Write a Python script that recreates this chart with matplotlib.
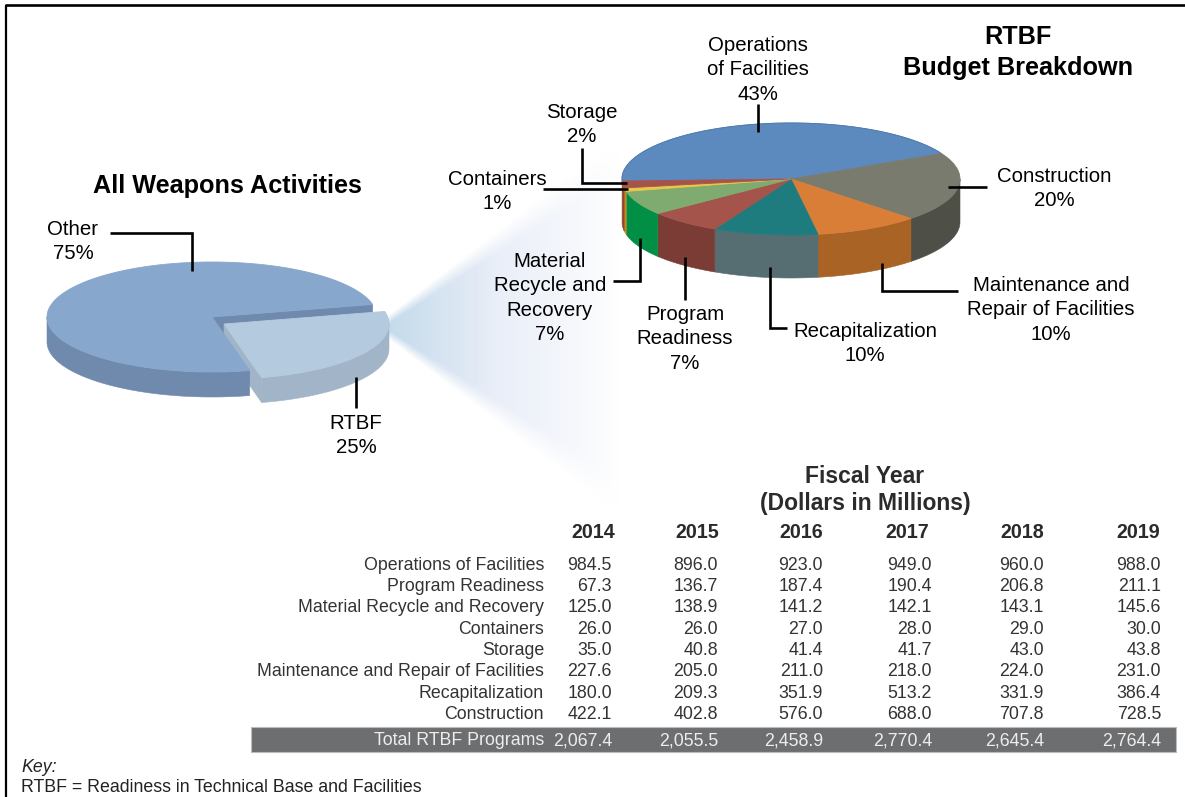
import numpy as np
import matplotlib
matplotlib.use("Agg")
import matplotlib.pyplot as plt
from matplotlib.patches import Polygon, Rectangle

plt.rcParams['font.family'] = ['Liberation Sans', 'DejaVu Sans']

# ---- data ----
rtbf_slices = ["Operations of Facilities", "Construction", "Maintenance and Repair of Facilities",
               "Recapitalization", "Program Readiness", "Material Recycle and Recovery",
               "Containers", "Storage"]
rtbf_percent = [43, 20, 10, 10, 7, 7, 1, 2]
rtbf_top = ["#5C8ABE", "#7A7B6F", "#D97E37", "#1E7B7E", "#A5544C", "#7FAB70", "#E8C84A", "#A5544C"]
rtbf_side = ["#4A70A0", "#4E4F47", "#A86325", "#566E72", "#7A3C35", "#008F45", "#C58A1A", "#8B4A30"]

weapons_slices = ["Other", "RTBF"]
weapons_percent = [75, 25]

years = ["2014", "2015", "2016", "2017", "2018", "2019"]
programs = ["Operations of Facilities", "Program Readiness", "Material Recycle and Recovery",
            "Containers", "Storage", "Maintenance and Repair of Facilities",
            "Recapitalization", "Construction"]
ops = ["984.5", "896.0", "923.0", "949.0", "960.0", "988.0"]
readiness = ["67.3", "136.7", "187.4", "190.4", "206.8", "211.1"]
recycle = ["125.0", "138.9", "141.2", "142.1", "143.1", "145.6"]
containers = ["26.0", "26.0", "27.0", "28.0", "29.0", "30.0"]
storage = ["35.0", "40.8", "41.4", "41.7", "43.0", "43.8"]
maintenance = ["227.6", "205.0", "211.0", "218.0", "224.0", "231.0"]
recap = ["180.0", "209.3", "351.9", "513.2", "331.9", "386.4"]
construction = ["422.1", "402.8", "576.0", "688.0", "707.8", "728.5"]
totals = ["2,067.4", "2,055.5", "2,458.9", "2,770.4", "2,645.4", "2,764.4"]
rows = [ops, readiness, recycle, containers, storage, maintenance, recap, construction]

# ---- canvas in pixel coordinates ----
W, H = 1185, 797
fig = plt.figure(figsize=(W / 100, H / 100), dpi=100, facecolor="white")
ax = fig.add_axes([0, 0, 1, 1])
ax.axis("off")


def ell(cx, cy, rx, ry, a, dy=0):
    t = np.radians(a)
    return np.column_stack([cx + rx * np.cos(t), cy - ry * np.sin(t) + dy])


def arc(a0, a1, n=None):
    n = n or max(2, int(abs(a1 - a0)) + 2)
    return np.linspace(a0, a1, n)


def top(cx, cy, rx, ry, a0, a1, color, z, ec=None):
    pts = np.vstack([[cx, cy], ell(cx, cy, rx, ry, arc(a0, a1))])
    ax.add_patch(Polygon(pts, closed=True, fc=color, ec=ec or color, lw=0.6, zorder=z))


def side(cx, cy, rx, ry, d, a0, a1, color, z):
    # a0 > a1, clockwise. Only the front half of the rim is seen.
    s = max(a1, -180)
    e = min(a0, 0)
    if e <= s:
        return
    a = arc(e, s)
    pts = np.vstack([ell(cx, cy, rx, ry, a), ell(cx, cy, rx, ry, a[::-1], d)])
    ax.add_patch(Polygon(pts, closed=True, fc=color, ec=color, lw=0.4, zorder=z))


# ---- fan behind the two pies ----
yy, xx = np.mgrid[150:520, 380:640]
yt = 313 - 0.77 * (xx - 390)
yb = 340 + 0.76 * (xx - 390)
soft = 8 + 0.12 * (xx - 380)
a = np.clip((yy - yt) / soft, 0, 1) * np.clip((yb - yy) / soft, 0, 1)
f = np.clip((xx - 385) / 235.0, 0, 1)
a = a * (1 - f ** 1.6)
rgba = np.zeros(xx.shape + (4,))
c0, c1 = np.array([196, 219, 236]) / 255, np.array([224, 231, 245]) / 255
mix = np.clip((xx - 385) / 110.0, 0, 1)
for i in range(3):
    rgba[..., i] = c0[i] * (1 - mix) + c1[i] * mix
rgba[..., 3] = a
ax.imshow(rgba, extent=(380, 640, 520, 150), aspect="auto", zorder=0, interpolation="bilinear")

# ---- RTBF pie ----
RC = (791, 179, 169, 56)
RD = 43
angle = 182.0
for p, t, s in zip(rtbf_percent, rtbf_top, rtbf_side):
    a1 = angle - p * 3.6
    side(*RC, RD, angle - 360 if angle > 180 else angle, a1, s, 2)
    top(*RC, angle, a1, t, 3)
    angle = a1
ax.add_patch(Polygon(ell(*RC, arc(182, 28)), closed=False, fill=False, ec="#4F7DB0", lw=0.7, zorder=4))

# ---- Weapons pie ----
LC = (212, 317, 165, 55)
LD = 25
LX = (224, 324, 165, 55)
other_a0 = -76.8
other_a1 = other_a0 - weapons_percent[0] * 3.6
slice_a1 = other_a0
slice_a0 = other_a0 + weapons_percent[1] * 3.6
OTHER_TOP, OTHER_SIDE = "#87A7CD", "#6F8AAD"
RT_TOP, RT_SIDE = "#B4CADF", "#A2B5C8"
# inner wall of the large slice
e = ell(*LC, np.array([slice_a0]))[0]
ax.add_patch(Polygon([[LC[0], LC[1]], e, e + [0, LD], [LC[0], LC[1] + LD]], closed=True,
                     fc=OTHER_SIDE, ec=OTHER_SIDE, lw=0.4, zorder=1))
# cut face and rim of the pulled-out slice
e2 = ell(*LX, np.array([slice_a1]))[0]
ax.add_patch(Polygon([[LX[0], LX[1]], e2, e2 + [0, LD], [LX[0], LX[1] + LD]], closed=True,
                     fc=RT_SIDE, ec=RT_SIDE, lw=0.4, zorder=2))
side(*LX, LD, slice_a0, slice_a1, RT_SIDE, 2)
# the large slice
side(*LC, LD, other_a0, other_a1, OTHER_SIDE, 3)
top(*LC, other_a0, other_a1, OTHER_TOP, 4)
top(*LX, slice_a0, slice_a1, RT_TOP, 5)


def label(x, y, lines, size=14.65, color="black", weight="normal", step=24.3):
    # y is the baseline of the first line
    for i, s in enumerate(lines):
        ax.text(x, y + i * step, s, ha="center", va="baseline", fontsize=size, color=color,
                fontweight=weight, zorder=8)


def leader(xs, ys, lw=1.9):
    ax.plot(xs, ys, color="black", lw=lw, solid_joinstyle="miter", solid_capstyle="butt", zorder=7)


# ---- titles and slice labels ----
label(227, 193, ["All Weapons Activities"], size=18.2, weight="bold")
label(1018, 44, ["RTBF", "Budget Breakdown"], size=18.2, weight="bold", step=31)

label(73, 235, [weapons_slices[0], f"{weapons_percent[0]}%"])
label(356, 429, [weapons_slices[1], f"{weapons_percent[1]}%"])
label(758, 51, ["Operations", "of Facilities", f"{rtbf_percent[0]}%"])
label(1054, 182, [rtbf_slices[1], f"{rtbf_percent[1]}%"])
label(1051, 291, ["Maintenance and", "Repair of Facilities", f"{rtbf_percent[2]}%"])
label(865, 337, [rtbf_slices[3], f"{rtbf_percent[3]}%"])
label(685, 320, ["Program", "Readiness", f"{rtbf_percent[4]}%"])
label(550, 267, ["Material", "Recycle and", "Recovery", f"{rtbf_percent[5]}%"])
label(497, 185, [rtbf_slices[6], f"{rtbf_percent[6]}%"])
label(582, 118, [rtbf_slices[7], f"{rtbf_percent[7]}%"])

leader([110, 192, 192], [233, 233, 271])
leader([356, 356], [377, 408])
leader([758, 758], [104, 132])
leader([948, 987], [187, 187])
leader([882, 882, 958], [263, 291, 291])
leader([770, 770, 787], [267, 328, 328])
leader([685, 685], [257, 300])
leader([640, 640, 613], [238, 281, 281])
leader([582, 582, 627], [148, 183, 183])
leader([543, 628], [189, 189])

# ---- table ----
label(865, 483, ["Fiscal Year", "(Dollars in Millions)"], size=16.5, color="#2b2b2b", weight="bold", step=27)
TXT = "#333333"
TS = 12.75
cols = [612, 718, 823, 932, 1044, 1161]
hdr = [615, 719, 823, 929, 1044, 1160]
row_y = [570, 591, 612.5, 634, 655, 676, 698, 719]
for x, yr in zip(hdr, years):
    ax.text(x, 538, yr, ha="right", va="baseline", fontsize=14.2, fontweight="bold", color="#2b2b2b")
for y, name, vals in zip(row_y, programs, rows):
    ax.text(544, y, name, ha="right", va="baseline", fontsize=TS, color=TXT)
    for x, v in zip(cols, vals):
        ax.text(x, y, v, ha="right", va="baseline", fontsize=TS, color=TXT)
ax.add_patch(Rectangle((251, 727), 925, 25, fc="#6D6E70", ec="#BDBEC0", lw=0.8, zorder=1))
ax.text(544, 745, "Total RTBF Programs", ha="right", va="baseline", fontsize=TS, color="#EDEDED", zorder=3)
for x, v in zip(cols, totals):
    ax.text(x, 745, v, ha="right", va="baseline", fontsize=TS, color="#EDEDED", zorder=3)

# ---- key ----
ax.text(21, 771.5, "Key:", ha="left", va="baseline", fontsize=12.8, style="italic", color="#222222")
ax.text(21, 792, "RTBF = Readiness in Technical Base and Facilities", ha="left", va="baseline", fontsize=12.8, color="#222222")

# ---- frame ----
leader([6, 6], [797, 5], lw=1.6)
leader([5, 1185], [5, 5])

ax.set_xlim(0, W)
ax.set_ylim(H, 0)
fig.savefig("out.png", dpi=100, facecolor="white")
